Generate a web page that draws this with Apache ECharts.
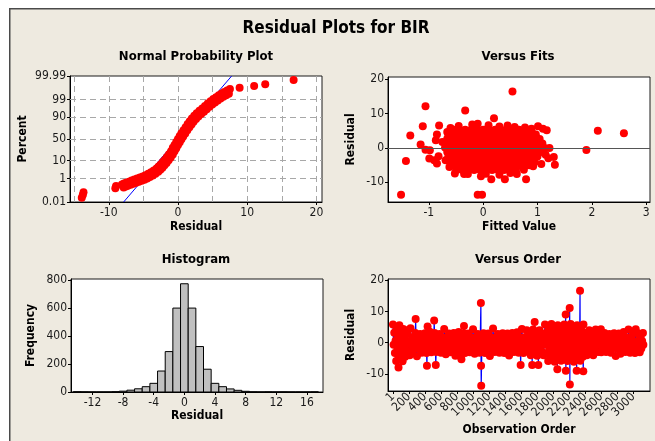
<!DOCTYPE html>
<html>
<head>
<meta charset="utf-8">
<script src="https://cdn.jsdelivr.net/npm/echarts@6.0.0/dist/echarts.min.js"></script>
<style>
  html, body { margin: 0; padding: 0; background: #fff; }
  #chart { width: 655px; height: 441px; }
</style>
</head>
<body>
<div id="chart"></div>
<script>
// ---- values ----

// normal probability plot: y axis is the normal score of the percent labels
var percentLabels = ['0.01', '1', '10', '50', '90', '99', '99.99'];
var percentZ = [-3.719, -2.326, -1.282, 0, 1.282, 2.326, 3.719];
var residTicks = [-10, 0, 10, 20];
var residGrid = [-15, -10, -5, 0, 5, 10, 15, 20];
// [residual, normal score]
var probPoints = [
  [-13.9, -3.47], [-13.75, -3.3], [-13.65, -3.14],
  [-9.05, -2.9], [-8.95, -2.78],
  [-8.1, -2.68], [-7.8, -2.63], [-7.5, -2.58], [-7.1, -2.52], [-6.7, -2.45], [-6.3, -2.39],
  [-5.9, -2.33], [-5.5, -2.27], [-5.1, -2.22], [-4.7, -2.14], [-4.3, -2.05], [-3.9, -1.96],
  [-3.5, -1.86], [-3.1, -1.74], [-2.8, -1.63], [-2.5, -1.5], [-2.2, -1.36], [-1.9, -1.22],
  [-1.6, -1.06], [-1.3, -0.9], [-1.0, -0.72], [-0.75, -0.52], [-0.5, -0.35], [-0.25, -0.17],
  [0, 0], [0.25, 0.17], [0.5, 0.34], [0.8, 0.52], [1.1, 0.7], [1.4, 0.88], [1.7, 1.05],
  [2.0, 1.21], [2.35, 1.37], [2.7, 1.52], [3.1, 1.67], [3.5, 1.8], [3.9, 1.95], [4.3, 2.1],
  [4.7, 2.23], [5.1, 2.36], [5.5, 2.47], [5.9, 2.58], [6.3, 2.68], [6.7, 2.77], [7.1, 2.86],
  [7.5, 2.95],
  [-7.85, -2.86], [-7.55, -2.81], [-7.25, -2.76], [-6.85, -2.7], [-6.45, -2.64], [-6.05, -2.58],
  [-5.65, -2.52], [-5.25, -2.46], [-4.85, -2.4], [-4.45, -2.33], [-4.05, -2.24], [-3.65, -2.15],
  [-3.25, -2.05], [-2.85, -1.93], [-2.55, -1.82], [-2.25, -1.69], [-1.95, -1.55], [-1.65, -1.41],
  [-1.35, -1.25], [-1.05, -1.09], [-0.75, -0.91], [-0.5, -0.72], [-0.25, -0.54], [0, -0.36],
  [0.25, -0.19], [0.5, -0.02], [0.75, 0.15], [1.05, 0.33], [1.35, 0.51], [1.65, 0.69],
  [1.95, 0.86], [2.25, 1.02], [2.6, 1.18], [2.95, 1.33], [3.35, 1.47], [3.75, 1.61],
  [4.15, 1.76], [4.55, 1.91], [4.95, 2.04], [5.35, 2.16], [5.75, 2.28], [6.15, 2.39],
  [6.55, 2.49], [6.95, 2.58], [7.35, 2.67],
  [8.9, 3.03], [11.0, 3.13], [12.6, 3.23], [16.7, 3.48]
];
var fitLine = [[-7.85, -3.719], [7.75, 3.719]];

// versus fits: [fitted value, residual]
var fitTicks = [-1, 0, 1, 2, 3];
var fitsPoints = [
  [-0.55, 5.3], [-0.44, 5.3], [-0.33, 5.3], [-0.22, 5.3], [-0.11, 5.3], [0, 5.3], [0.11, 5.3],
  [0.22, 5.3], [0.33, 5.3], [0.44, 5.3], [0.55, 5.3], [0.66, 5.3], [0.77, 5.3], [0.88, 5.2],
  [-0.64, 4.0], [-0.605, 4.0], [-0.495, 4.0], [-0.385, 4.0], [-0.275, 4.0], [-0.165, 4.0], [-0.055, 4.0],
  [0.055, 4.0], [0.165, 4.0], [0.275, 4.0], [0.385, 4.0], [0.495, 4.0], [0.605, 4.0], [0.715, 4.0],
  [0.825, 4.0], [0.935, 4.0], [0.97, 3.9],
  [-0.66, 2.7], [-0.55, 2.7], [-0.44, 2.7], [-0.33, 2.7], [-0.22, 2.7], [-0.11, 2.7], [0, 2.7],
  [0.11, 2.7], [0.22, 2.7], [0.33, 2.7], [0.44, 2.7], [0.55, 2.7], [0.66, 2.7], [0.77, 2.7],
  [0.88, 2.7], [0.99, 2.7], [1.04, 2.6],
  [-0.68, 1.4], [-0.605, 1.4], [-0.495, 1.4], [-0.385, 1.4], [-0.275, 1.4], [-0.165, 1.4], [-0.055, 1.4],
  [0.055, 1.4], [0.165, 1.4], [0.275, 1.4], [0.385, 1.4], [0.495, 1.4], [0.605, 1.4], [0.715, 1.4],
  [0.825, 1.4], [0.935, 1.4], [1.045, 1.4], [1.09, 1.3],
  [-0.7, 0.1], [-0.66, 0.1], [-0.55, 0.1], [-0.44, 0.1], [-0.33, 0.1], [-0.22, 0.1], [-0.11, 0.1],
  [0, 0.1], [0.11, 0.1], [0.22, 0.1], [0.33, 0.1], [0.44, 0.1], [0.55, 0.1], [0.66, 0.1],
  [0.77, 0.1], [0.88, 0.1], [0.99, 0.1], [1.1, 0.1], [1.13, 0.0],
  [-0.66, -1.2], [-0.605, -1.2], [-0.495, -1.2], [-0.385, -1.2], [-0.275, -1.2], [-0.165, -1.2], [-0.055, -1.2],
  [0.055, -1.2], [0.165, -1.2], [0.275, -1.2], [0.385, -1.2], [0.495, -1.2], [0.605, -1.2], [0.715, -1.2],
  [0.825, -1.2], [0.935, -1.2], [1.045, -1.2], [1.08, -1.1],
  [-0.64, -2.5], [-0.55, -2.5], [-0.44, -2.5], [-0.33, -2.5], [-0.22, -2.5], [-0.11, -2.5], [0, -2.5],
  [0.11, -2.5], [0.22, -2.5], [0.33, -2.5], [0.44, -2.5], [0.55, -2.5], [0.66, -2.5], [0.77, -2.5],
  [0.88, -2.5], [0.99, -2.5], [1.0, -2.4],
  [-0.6, -3.8], [-0.495, -3.8], [-0.385, -3.8], [-0.275, -3.8], [-0.165, -3.8], [-0.055, -3.8],
  [0.055, -3.8], [0.165, -3.8], [0.275, -3.8], [0.385, -3.8], [0.495, -3.8], [0.605, -3.8],
  [0.715, -3.8], [0.825, -3.8], [0.935, -3.8],
  [-0.55, -5.1], [-0.44, -5.1], [-0.33, -5.1], [-0.22, -5.1], [-0.11, -5.1], [0, -5.1], [0.11, -5.1],
  [0.22, -5.1], [0.33, -5.1], [0.44, -5.1], [0.55, -5.1], [0.66, -5.1], [0.77, -5.1], [0.85, -5.0],
  [-0.495, -6.4], [-0.385, -6.4], [-0.275, -6.4], [-0.165, -6.4], [-0.055, -6.4], [0.055, -6.4],
  [0.165, -6.4], [0.275, -6.4], [0.385, -6.4], [0.495, -6.4], [0.605, -6.3],
  [-1.51, -13.6], [-1.42, -3.8], [-1.34, 3.6], [-1.15, 1.0], [-1.11, 6.3], [-1.06, 12.1], [-1.06, -0.5],
  [-0.98, -0.7], [-0.99, -3.1], [-0.9, -3.6], [-0.85, -4.5], [-0.82, -2.4], [-0.81, 6.5], [-0.87, 2.2],
  [-0.85, 3.9], [-0.33, 10.9], [0.54, 16.4], [-0.1, -13.6], [-0.02, -13.6], [0.2, 8.6], [1.9, -0.6],
  [2.11, 5.0], [2.59, 4.3], [1.32, -4.9], [1.3, -2.6], [1.22, 0.0], [1.17, 5.1], [1.1, 5.6], [1.01, 6.3],
  [1.07, -4.7], [0.92, -5.3], [0.79, -9.1], [0.62, -7.6], [0.4, -9.1], [0.15, -9.1], [-0.04, -8.2],
  [-0.28, -7.6], [-0.52, -7.4], [-0.62, -5.5], [-0.69, -3.6], [0.89, 5.6], [0.77, 5.9], [0.58, 6.1],
  [0.3, 6.25], [-0.1, 7.0], [-0.66, 4.6], [-0.75, 1.7], [-0.45, 6.4], [-0.2, 6.8], [0.1, 6.6],
  [0.45, 6.5], [-0.6, 5.8], [-0.35, -7.6], [0.05, -7.5], [0.3, -7.8], [0.5, -7.3], [0.75, -6.3],
  [0.95, -4.1], [1.15, -2.0], [1.2, -3.0]
];
var resTicks = [-10, 0, 10, 20];

// histogram: bin centres and counts
var histBins = [-14, -13, -12, -11, -10, -9, -8, -7, -6, -5, -4, -3, -2, -1, 0, 1,
  2, 3, 4, 5, 6, 7, 8, 9, 10, 11, 12, 13, 14, 15, 16, 17];
var histCounts = [2, 1, 0, 0, 0, 2, 6, 13, 23, 38, 62, 150, 289, 600, 774, 600,
  325, 163, 62, 38, 22, 12, 5, 1, 0, 1, 0, 1, 0, 0, 0, 1];
var histXTicks = [-12, -8, -4, 0, 4, 8, 12, 16];
var freqTicks = [0, 200, 400, 600, 800];

// versus order: [observation, residual]
var orderTicks = [1, 200, 400, 600, 800, 1000, 1200, 1400, 1600, 1800, 2000, 2200, 2400, 2600, 2800, 3000];
var orderPoints = [
  [1, 5.8], [9, -0.7], [17, 3.2], [25, -3.3], [33, 0.6], [41, -5.9], [49, 4.5], [57, -2.0], [65, 1.9],
  [70, -8.0], [73, -4.6], [81, 5.6], [89, -0.8], [97, 3.3], [105, -3.4], [113, 0.5], [121, -6.0],
  [129, 4.4], [137, -1.9], [145, 2.0], [153, -4.5],
  [160, 4.0], [170, -0.6], [180, 2.85], [190, -2.9], [200, 0.55], [210, -4.05],
  [220, 4.6], [230, -0.6], [240, -3.1], [250, 1.7], [260, -1.9], [270, 0.5],
  [280, 3.1], [284, 7.6], [290, -0.7], [300, -4.4], [310, 1.6], [320, -2.0], [330, 0.4],
  [340, 2.8], [350, -0.5], [360, -3.2], [370, 1.8], [380, -1.8], [390, 0.6],
  [400, 3.0], [410, -0.6], [420, -3.3], [425, -7.4], [430, 1.7], [433, 5.2], [440, -1.9], [450, 0.5],
  [460, 3.5], [470, -0.6], [480, -3.1], [490, 1.7], [500, -1.9], [510, 0.5],
  [515, 7.1], [520, 3.1], [530, -0.7], [535, -7.2], [540, -3.0], [550, 1.6], [560, -2.0], [570, 0.4],
  [580, 2.8], [590, -0.5], [600, -3.2], [610, 1.8], [620, -1.8], [630, 0.6],
  [640, 4.4], [650, -0.6], [660, -3.7], [670, 1.7], [680, -1.9], [690, 0.5],
  [700, 2.9], [710, -0.6], [720, -3.1], [730, 1.7], [740, -1.9], [750, 0.5],
  [760, 3.1], [770, -0.7], [780, -4.2], [790, 1.6], [800, -2.0], [810, 0.4],
  [820, 3.4], [830, -0.5], [840, -3.2], [850, 1.8], [855, -5.3], [860, -1.8], [870, 0.6],
  [880, 3.0], [887, 5.3], [890, -0.6], [900, -3.3], [910, 1.7], [920, -1.9], [930, 0.5],
  [940, 2.9], [950, -0.6], [960, -3.1], [970, 1.7], [980, -1.9], [990, 0.5],
  [1000, 4.3], [1010, -0.7], [1020, -3.6], [1030, 1.6], [1040, -2.0], [1050, 0.4],
  [1060, 2.8], [1070, -0.5], [1080, -3.2], [1090, 1.8], [1098, 12.7], [1100, -7.4], [1102, -13.8],
  [1110, -1.8], [1120, 0.6],
  [1130, 3.0], [1140, -0.6], [1150, -3.3], [1160, 1.7], [1170, -1.9], [1180, 0.5],
  [1190, 2.9], [1200, -0.6], [1210, -4.3], [1220, 1.7], [1230, -1.9], [1240, 0.5],
  [1250, 4.5], [1260, -0.7], [1270, -3.0], [1280, 1.6], [1290, -2.0], [1300, 0.4],
  [1310, 2.8], [1320, -0.5], [1330, -3.2], [1340, 1.8], [1350, -1.8], [1360, 0.6],
  [1370, 3.0], [1380, -0.6], [1390, -3.3], [1400, 1.7], [1410, -1.9], [1420, 0.5],
  [1430, 2.9], [1440, -0.6], [1450, -4.1], [1460, 1.7], [1470, -1.9], [1480, 0.5],
  [1490, 3.1], [1500, -0.7], [1510, -3.0], [1520, 1.6], [1530, -2.0], [1540, 0.4],
  [1550, 3.3], [1560, -0.5], [1570, -3.2], [1580, 1.8], [1590, -1.8], [1594, -7.2], [1600, 0.6],
  [1610, 4.4], [1620, -0.6], [1630, -3.3], [1640, 1.7], [1650, -1.9], [1660, 0.5],
  [1670, 4.0], [1680, -0.6], [1690, 2.85], [1700, -2.9], [1710, 0.55], [1720, -4.05], [1730, 1.7],
  [1738, -7.2], [1740, -1.75], [1750, 4.2], [1760, -0.5], [1769, 6.6], [1770, 2.7], [1780, -3.0],
  [1790, 0.45], [1800, -4.2], [1810, 1.8], [1815, -7.2], [1820, -1.65], [1830, 4.0], [1840, -0.6],
  [1850, 2.85], [1860, -2.9], [1870, 0.55], [1880, -4.05], [1890, 1.7],
  [1898, 5.8], [1906, -0.7], [1914, 3.2], [1922, -3.3], [1930, 0.6], [1938, -5.9], [1946, 4.5],
  [1954, -2.0], [1962, 1.9], [1970, -4.6],
  [1978, 6.0], [1986, -0.6], [1994, 3.1], [2002, -3.4], [2010, 0.7], [2018, -6.1], [2026, 4.4],
  [2034, -2.1], [2042, 1.8], [2050, -4.7], [2052, -8.5],
  [2058, 5.6], [2066, -0.8], [2074, 3.3], [2082, -3.2], [2090, 0.5], [2098, -5.8], [2106, 4.6],
  [2114, -1.9], [2122, 2.0], [2130, -4.5],
  [2138, 5.8], [2146, -0.7], [2154, 3.2], [2156, 9.0], [2158, -9.0], [2162, -3.3], [2170, 0.6],
  [2178, -5.9], [2186, 4.5], [2194, -2.0], [2202, 1.9], [2206, 11.1], [2208, -13.4], [2210, -4.6],
  [2218, 6.0], [2226, -0.6], [2234, 3.1], [2242, -3.4], [2250, 0.7], [2258, -6.1], [2266, 4.4],
  [2274, -2.1], [2282, 1.8], [2290, -4.7], [2293, -9.0],
  [2298, 5.6], [2306, -0.8], [2314, 3.3], [2322, -3.2], [2330, 0.5], [2335, 16.6], [2338, -5.8],
  [2346, 4.6], [2354, -1.9], [2362, 2.0], [2370, -4.5], [2376, -9.2],
  [2378, 5.8], [2386, -0.7], [2394, 3.2], [2402, -3.3],
  [2410, 0.55], [2420, -4.05], [2430, 1.7], [2440, -1.75], [2450, 4.0], [2460, -0.6], [2470, 2.85],
  [2480, -2.9], [2490, 0.55], [2500, -4.05], [2510, 1.7], [2520, -1.75], [2530, 4.2], [2540, -0.5],
  [2550, 2.7], [2560, -3.0],
  [2570, 0.5], [2580, 2.9], [2590, -0.6], [2595, 4.3], [2600, -3.1], [2610, 1.7], [2620, -1.9], [2630, 0.5],
  [2640, 3.1], [2650, -0.7], [2660, -3.0], [2670, 1.6], [2680, -2.0], [2690, 0.4],
  [2700, 2.8], [2710, -0.5], [2720, -3.2], [2730, 1.8], [2740, -1.8], [2750, 0.6],
  [2760, 3.0], [2770, -0.6], [2780, -4.3], [2790, 1.7], [2800, -1.9], [2810, 0.5],
  [2820, 2.9], [2830, -0.6], [2840, -3.6], [2850, 1.7], [2860, -1.9], [2870, 0.5],
  [2880, 3.4], [2890, -0.7], [2900, -3.0], [2910, 1.6], [2920, -2.0], [2930, 0.4],
  [2940, 4.2], [2950, -0.5], [2960, -3.2], [2970, 1.8], [2980, -1.8], [2990, 0.6],
  [3000, 3.0], [3010, -0.6], [3020, -3.3], [3030, 4.3], [3040, -1.9], [3050, 0.5],
  [3060, 2.9], [3070, -0.6], [3080, -3.1], [3090, 1.7], [3100, -1.9], [3110, 0.5],
  [3120, 3.1], [3125, -0.7]
];

// ---- chart ----
var FONT = '"DejaVu Sans Condensed", "Liberation Sans", sans-serif';
var RED = '#ff0000';
var BLUE = '#0000ff';

function valueAxis(gridIndex, min, max, ticks, name, nameGap) {
  return {
    type: 'value',
    gridIndex: gridIndex,
    min: min,
    max: max,
    name: name,
    nameLocation: 'middle',
    nameGap: nameGap,
    nameTextStyle: { fontFamily: FONT, fontSize: 12, fontWeight: 'bold', color: '#000' },
    axisLine: { show: true, onZero: false, lineStyle: { color: '#000', width: 1 } },
    axisTick: { show: true, length: 3, customValues: ticks, lineStyle: { color: '#000' } },
    axisLabel: {
      customValues: ticks,
      showMinLabel: true,
      showMaxLabel: true,
      margin: 5,
      fontFamily: FONT,
      fontSize: 12,
      color: '#1a1a1a',
      formatter: function (v) { return String(v); }
    },
    splitLine: { show: false }
  };
}

function title(text, x, y, size) {
  return {
    type: 'text',
    x: x,
    y: y,
    silent: true,
    style: {
      text: text,
      fontFamily: FONT,
      fontSize: size,
      fontWeight: 'bold',
      fill: '#000',
      align: 'center',
      verticalAlign: 'middle'
    }
  };
}

var gridBox = { show: true, backgroundColor: '#ffffff', borderColor: '#1a1a1a', borderWidth: 1 };

// the rotated order labels are split over two stacked axes so none get dropped for overlap
var orderLabelsA = orderTicks.filter(function (v, i) { return i % 2 === 0; });
var orderLabelsB = orderTicks.filter(function (v, i) { return i % 2 === 1; });

var xAxes = [
  valueAxis(0, -15.6, 20.8, residTicks, 'Residual', 19),
  valueAxis(1, -1.75, 3.07, fitTicks, 'Fitted Value', 19),
  valueAxis(2, -14.8, 18.1, histXTicks, 'Residual', 18),
  valueAxis(3, -61, 3208, orderTicks, 'Observation Order', 33),
  valueAxis(3, -61, 3208, orderLabelsB, '', 0)
];
xAxes[3].axisLabel.customValues = orderLabelsA;
xAxes[3].axisLabel.rotate = 45;
xAxes[3].axisLabel.margin = 4;
xAxes[4].axisLabel.rotate = 45;
xAxes[4].axisLabel.margin = 4;
xAxes[4].axisLine.show = false;
xAxes[4].axisTick.show = false;
xAxes[4].position = 'bottom';

var yAxes = [
  valueAxis(0, -3.719, 3.719, percentZ, 'Percent', 41),
  valueAxis(1, -15.7, 20.6, resTicks, 'Residual', 31),
  valueAxis(2, 0, 808, freqTicks, 'Frequency', 34),
  valueAxis(3, -15.5, 20.4, resTicks, 'Residual', 31)
];
yAxes.forEach(function (a) { a.axisLabel.margin = 4; });
yAxes[0].axisLabel.formatter = function (v) {
  for (var i = 0; i < percentZ.length; i++) {
    if (Math.abs(percentZ[i] - v) < 1e-6) return percentLabels[i];
  }
  return '';
};

var gridMarks = residGrid.map(function (v) { return { xAxis: v }; })
  .concat(percentZ.slice(1, 6).map(function (v) { return { yAxis: v }; }));

var option = {
  animation: false,
  backgroundColor: '#eeeae0',
  grid: [
    Object.assign({ left: 70, top: 76, width: 252, height: 126 }, gridBox),
    Object.assign({ left: 388, top: 77, width: 262, height: 125 }, gridBox),
    Object.assign({ left: 71, top: 279, width: 252, height: 113 }, gridBox),
    Object.assign({ left: 388, top: 279, width: 262, height: 112 }, gridBox)
  ],
  xAxis: xAxes,
  yAxis: yAxes,
  graphic: [
    { type: 'rect', shape: { x: 0, y: 0, width: 655, height: 8 }, style: { fill: '#ffffff' }, silent: true },
    { type: 'rect', shape: { x: 0, y: 0, width: 9, height: 441 }, style: { fill: '#ffffff' }, silent: true },
    { type: 'rect', shape: { x: 9, y: 8, width: 646, height: 1.5 }, style: { fill: '#4a4a4a' }, silent: true },
    { type: 'rect', shape: { x: 9, y: 8, width: 1.5, height: 433 }, style: { fill: '#4a4a4a' }, silent: true },
    title('Residual Plots for BIR', 336, 29, 17),
    title('Normal Probability Plot', 196, 57, 13),
    title('Versus Fits', 518, 57, 13),
    title('Histogram', 196, 260, 13),
    title('Versus Order', 518, 260, 13)
  ],
  series: [
    {
      type: 'line',
      xAxisIndex: 0,
      yAxisIndex: 0,
      data: fitLine,
      symbol: 'none',
      lineStyle: { color: BLUE, width: 1 },
      z: 2,
      markLine: {
        silent: true,
        symbol: 'none',
        z: 1,
        label: { show: false },
        lineStyle: { color: '#a8a8a8', type: [6, 4], width: 1 },
        data: gridMarks
      }
    },
    {
      type: 'scatter',
      xAxisIndex: 0,
      yAxisIndex: 0,
      data: probPoints,
      symbolSize: 8,
      itemStyle: { color: RED, opacity: 1 },
      z: 3
    },
    {
      type: 'scatter',
      xAxisIndex: 1,
      yAxisIndex: 1,
      data: fitsPoints,
      symbolSize: 8,
      itemStyle: { color: RED, opacity: 1 },
      z: 3,
      markLine: {
        silent: true,
        symbol: 'none',
        label: { show: false },
        lineStyle: { color: '#555555', type: 'solid', width: 1 },
        data: [{ yAxis: 0 }]
      }
    },
    {
      type: 'custom',
      xAxisIndex: 2,
      yAxisIndex: 2,
      data: histBins.map(function (b, i) { return [b, histCounts[i]]; }),
      renderItem: function (params, api) {
        var start = api.coord([api.value(0) - 0.5, api.value(1)]);
        var size = api.size([1, api.value(1)]);
        return {
          type: 'rect',
          shape: { x: start[0], y: start[1], width: size[0], height: size[1] },
          style: { fill: '#c0c0c0', stroke: '#000', lineWidth: 1 }
        };
      }
    },
    {
      type: 'line',
      xAxisIndex: 3,
      yAxisIndex: 3,
      data: orderPoints,
      symbol: 'none',
      lineStyle: { color: BLUE, width: 1.2 },
      z: 2
    },
    {
      type: 'scatter',
      xAxisIndex: 3,
      yAxisIndex: 3,
      data: orderPoints,
      symbolSize: 8,
      itemStyle: { color: RED, opacity: 1 },
      z: 3
    }
  ]
};

var chart = echarts.init(document.getElementById('chart'));
chart.setOption(option);
</script>
</body>
</html>
